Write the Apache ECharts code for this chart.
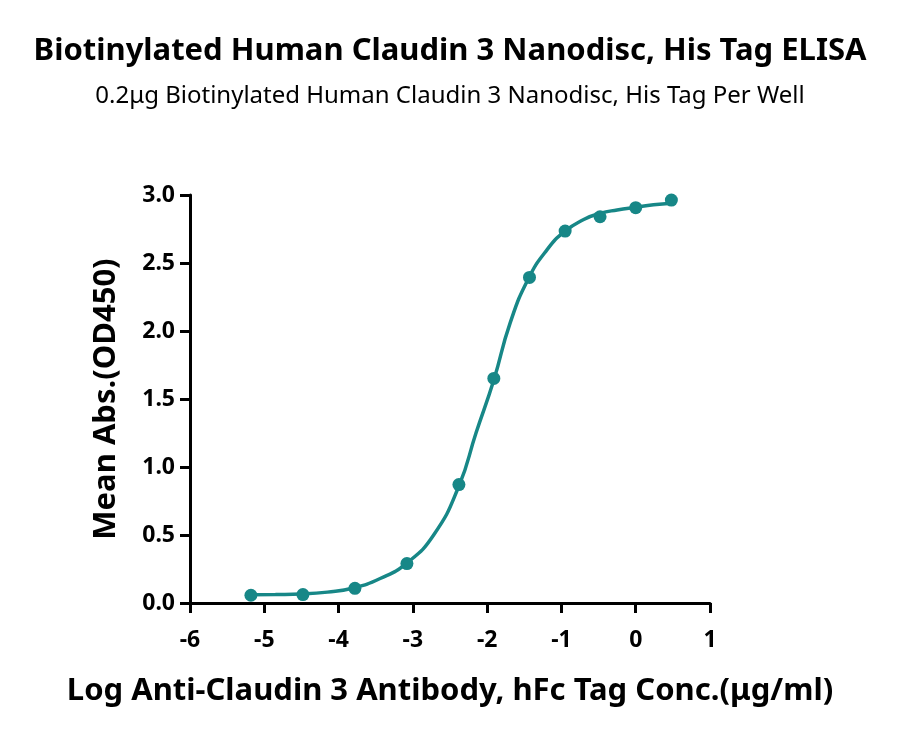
<!DOCTYPE html>
<html>
<head>
<meta charset="utf-8">
<script src="https://cdn.jsdelivr.net/npm/echarts@6/dist/echarts.min.js"></script>
<style>
  html, body { margin: 0; padding: 0; background: #fff; }
  #main { width: 900px; height: 738px; }
</style>
</head>
<body>
<div id="main"></div>
<script>
var logConc = [-5.18, -4.48, -3.78, -3.08, -2.38, -1.91, -1.43, -0.95, -0.48, 0.0, 0.48];
var meanAbs = [0.057, 0.062, 0.108, 0.29, 0.871, 1.651, 2.394, 2.735, 2.84, 2.907, 2.963];

// fitted curve
var curveX = [-5.19, -4.85, -4.5, -4.15, -3.8, -3.44, -3.09, -2.72, -2.38, -2.15, -1.91, -1.69, -1.44, -1.19, -0.96, -0.70, -0.48, -0.25, 0.0, 0.24, 0.48];
var curveY = [0.060, 0.062, 0.066, 0.080, 0.110, 0.180, 0.290, 0.500, 0.860, 1.250, 1.640, 2.060, 2.390, 2.600, 2.730, 2.820, 2.865, 2.890, 2.910, 2.928, 2.940];

var xTicks = [-6, -5, -4, -3, -2, -1, 0, 1];
var yTicks = [0.0, 0.5, 1.0, 1.5, 2.0, 2.5, 3.0];

var titleText = 'Biotinylated Human Claudin 3 Nanodisc, His Tag ELISA';
var subText = '0.2\u03bcg Biotinylated Human Claudin 3 Nanodisc, His Tag Per Well';
var xName = 'Log Anti-Claudin 3 Antibody, hFc Tag Conc.(\u03bcg/ml)';
var yName = 'Mean Abs.(OD450)';

var teal = '#178787';
var font = '"Noto Sans", sans-serif';

var points = logConc.map(function (x, i) { return [x, meanAbs[i]]; });
var curve = curveX.map(function (x, i) { return [x, curveY[i]]; });

var myChart = echarts.init(document.getElementById('main'));

var option = {
    backgroundColor: '#fff',
    animation: false,
    title: [
        {
            text: titleText,
            left: 'center',
            top: 31,
            textStyle: { fontFamily: font, fontWeight: 'bold', fontSize: 31, color: '#000' }
        },
        {
            text: subText,
            left: 'center',
            top: 79,
            textStyle: { fontFamily: font, fontWeight: 'normal', fontSize: 24, color: '#000' }
        }
    ],
    grid: { left: 190, right: 190, top: 195, bottom: 135 },
    xAxis: {
        type: 'value',
        min: xTicks[0],
        max: xTicks[xTicks.length - 1],
        interval: 1,
        name: xName,
        nameLocation: 'middle',
        nameGap: 73,
        nameTextStyle: { fontFamily: font, fontWeight: 'bold', fontSize: 31, color: '#000' },
        axisLine: { onZero: false, lineStyle: { color: '#000', width: 3 } },
        axisTick: { length: 10, lineStyle: { color: '#000', width: 3 } },
        axisLabel: { margin: 26, fontFamily: font, fontWeight: 'bold', fontSize: 23, color: '#000' },
        splitLine: { show: false }
    },
    yAxis: {
        type: 'value',
        min: yTicks[0],
        max: yTicks[yTicks.length - 1],
        interval: 0.5,
        name: yName,
        nameLocation: 'middle',
        nameGap: 68,
        nameTextStyle: { fontFamily: font, fontWeight: 'bold', fontSize: 31, color: '#000' },
        axisLine: { show: true, onZero: false, lineStyle: { color: '#000', width: 3 } },
        axisTick: { show: true, length: 10, lineStyle: { color: '#000', width: 3 } },
        axisLabel: {
            margin: 15, fontFamily: font, fontWeight: 'bold', fontSize: 23, color: '#000',
            formatter: function (v) { return v.toFixed(1); }
        },
        splitLine: { show: false }
    },
    series: [
        {
            name: 'fit',
            type: 'line',
            data: curve,
            smooth: 0.5,
            showSymbol: false,
            lineStyle: { color: teal, width: 3.5 },
            z: 2
        },
        {
            name: 'data',
            type: 'scatter',
            data: points,
            symbol: 'circle',
            symbolSize: 13,
            itemStyle: { color: teal, opacity: 1 },
            z: 3
        }
    ]
};

option && myChart.setOption(option);
</script>
</body>
</html>
